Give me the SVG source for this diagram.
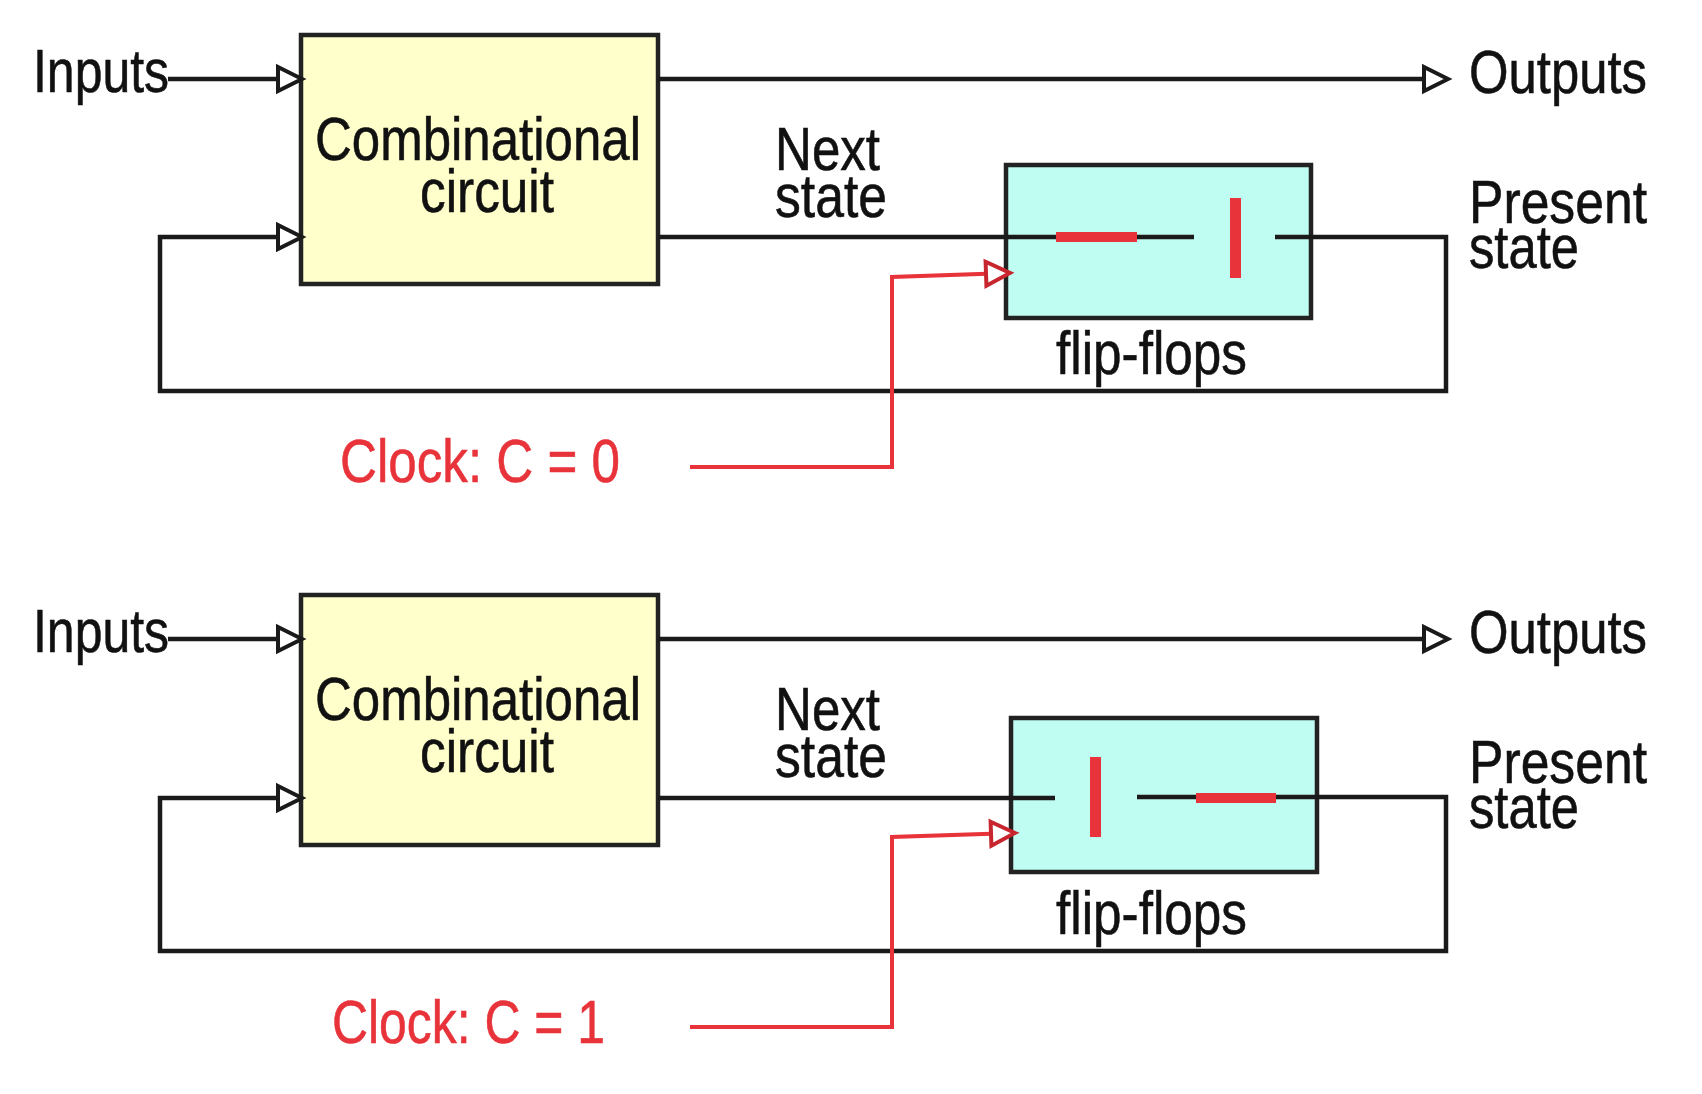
<svg xmlns="http://www.w3.org/2000/svg" width="1702" height="1094" viewBox="0 0 1702 1094">
<style>
.t{font-family:"Liberation Sans Narrow","Liberation Sans",Arial,sans-serif;font-size:62px;fill:#111;stroke:#111;stroke-width:0.6;}
.r{fill:#e8333a;stroke:#e8333a;}
.comb{fill:#ffffcc;stroke:#222;stroke-width:4.5;}
.ff{fill:#bffcf1;stroke:#222;stroke-width:4.5;}
.w{fill:none;stroke:#1a1a1a;stroke-width:4.5;}
.wa{fill:none;stroke:#1a1a1a;stroke-width:4.5;marker-end:url(#ab);}
.clk{fill:none;stroke:#e8333a;stroke-width:4;marker-end:url(#ar);}
.bar{fill:#e8333a;}
</style>
<defs>
<marker id="ab" markerUnits="userSpaceOnUse" markerWidth="34" markerHeight="34" viewBox="-4 -4 34 34" refX="24" refY="12" orient="auto">
<path d="M1,0 L25,12 L1,24 Z" fill="#fff" stroke="#1a1a1a" stroke-width="4" stroke-linejoin="miter"/>
</marker>
<marker id="ar" markerUnits="userSpaceOnUse" markerWidth="34" markerHeight="34" viewBox="-4 -4 34 34" refX="24" refY="12" orient="auto">
<path d="M1,0 L25,12 L1,24 Z" fill="#fff" stroke="#c8262e" stroke-width="4" stroke-linejoin="miter"/>
</marker>
</defs>

<!-- Top panel: C = 0 -->
<g id="comb-top">
<rect class="comb" x="301" y="35" width="357" height="249"/>
<text class="t" x="315" y="160" textLength="326" lengthAdjust="spacingAndGlyphs">Combinational</text>
<text class="t" x="420" y="212" textLength="134" lengthAdjust="spacingAndGlyphs">circuit</text>
</g>
<g id="ff-top">
<rect class="ff" x="1006" y="165" width="305" height="153"/>
<text class="t" x="1056" y="374" textLength="191" lengthAdjust="spacingAndGlyphs">flip-flops</text>
</g>
<g id="labels-top">
<text class="t" x="33" y="92" textLength="136" lengthAdjust="spacingAndGlyphs">Inputs</text>
<text class="t" x="1469" y="93" textLength="178" lengthAdjust="spacingAndGlyphs">Outputs</text>
<text class="t" x="775" y="170" textLength="105" lengthAdjust="spacingAndGlyphs">Next</text>
<text class="t" x="775" y="217" textLength="112" lengthAdjust="spacingAndGlyphs">state</text>
<text class="t" x="1469" y="223" textLength="178" lengthAdjust="spacingAndGlyphs">Present</text>
<text class="t" x="1469" y="268" textLength="110" lengthAdjust="spacingAndGlyphs">state</text>
<text class="t r" x="340" y="482" textLength="280" lengthAdjust="spacingAndGlyphs">Clock: C = 0</text>
</g>
<g id="connectors-top">
<path class="wa" d="M168,79 H301"/>
<path class="wa" d="M658,79 H1447"/>
<path class="w" d="M658,237 H1194"/>
<path class="wa" d="M1275,237 H1446 V391 H160 V237 H301"/>
<path class="clk" d="M690,467 H892 V277 L1009,273"/>
</g>
<g id="latch-top">
<rect class="bar" x="1056" y="232" width="81" height="10"/>
<rect class="bar" x="1230" y="198" width="11" height="80"/>
</g>

<!-- Bottom panel: C = 1 -->
<g id="comb-bottom">
<rect class="comb" x="301" y="595" width="357" height="250"/>
<text class="t" x="315" y="720" textLength="326" lengthAdjust="spacingAndGlyphs">Combinational</text>
<text class="t" x="420" y="772" textLength="134" lengthAdjust="spacingAndGlyphs">circuit</text>
</g>
<g id="ff-bottom">
<rect class="ff" x="1011" y="718" width="306" height="154"/>
<text class="t" x="1056" y="934" textLength="191" lengthAdjust="spacingAndGlyphs">flip-flops</text>
</g>
<g id="labels-bottom">
<text class="t" x="33" y="652" textLength="136" lengthAdjust="spacingAndGlyphs">Inputs</text>
<text class="t" x="1469" y="653" textLength="178" lengthAdjust="spacingAndGlyphs">Outputs</text>
<text class="t" x="775" y="730" textLength="105" lengthAdjust="spacingAndGlyphs">Next</text>
<text class="t" x="775" y="777" textLength="112" lengthAdjust="spacingAndGlyphs">state</text>
<text class="t" x="1469" y="783" textLength="178" lengthAdjust="spacingAndGlyphs">Present</text>
<text class="t" x="1469" y="828" textLength="110" lengthAdjust="spacingAndGlyphs">state</text>
<text class="t r" x="332" y="1043" textLength="273" lengthAdjust="spacingAndGlyphs">Clock: C = 1</text>
</g>
<g id="connectors-bottom">
<path class="wa" d="M168,639 H301"/>
<path class="wa" d="M658,639 H1447"/>
<path class="w" d="M658,798 H1055"/>
<path class="wa" d="M1137,797 H1446 V951 H160 V798 H301"/>
<path class="clk" d="M690,1027 H892 V837 L1014,833"/>
</g>
<g id="latch-bottom">
<rect class="bar" x="1090" y="757" width="11" height="80"/>
<rect class="bar" x="1196" y="793" width="80" height="10"/>
</g>
</svg>
